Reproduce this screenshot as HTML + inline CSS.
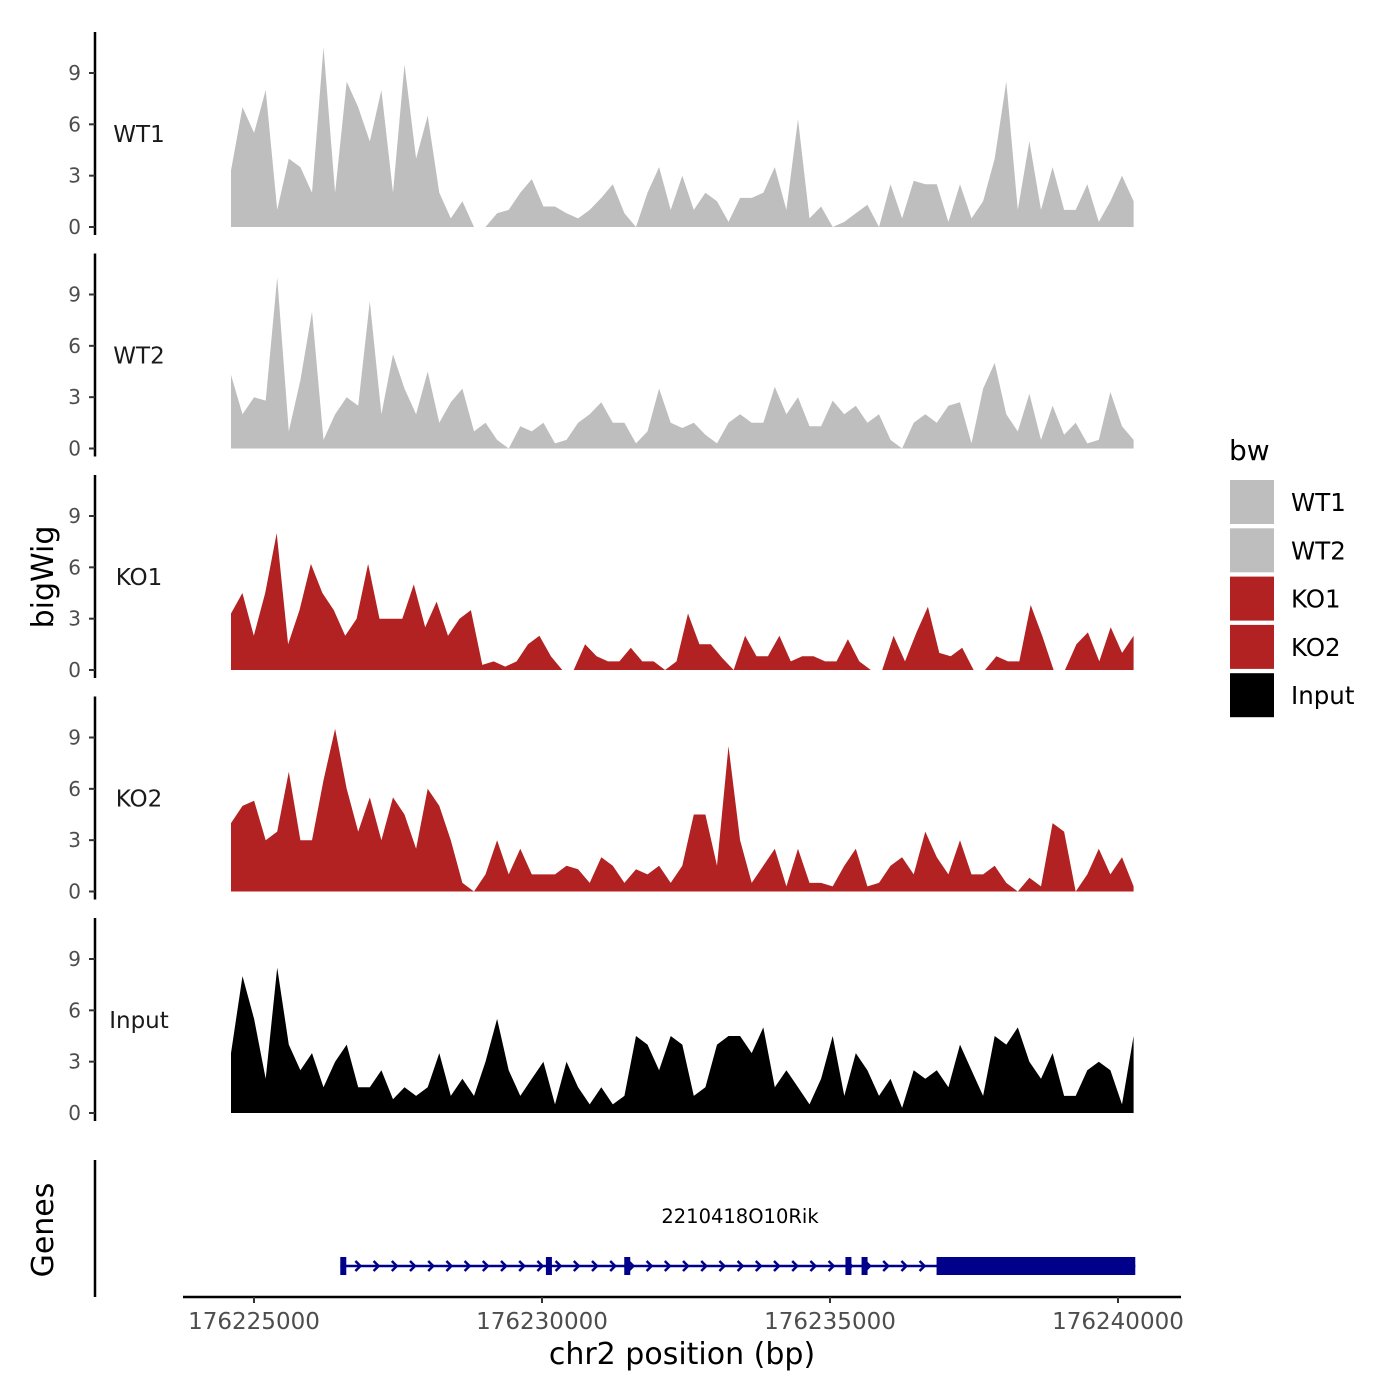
<!DOCTYPE html>
<html><head><meta charset="utf-8"><style>
html,body{margin:0;padding:0;background:#fff;}
svg{display:block;font-family:"DejaVu Sans","Liberation Sans",sans-serif;}
</style></head><body>
<svg id="chart" width="1400" height="1400" viewBox="0 0 1400 1400">
<g id="tracks"></g>
<g id="genes"></g>
<g id="legend"></g>
</svg>
<script>
const trackNames = ["WT1","WT2","KO1","KO2","Input"];
const trackColors = ["#bebebe","#bebebe","#b22222","#b22222","#000000"];
const binStart = 176224600;
const binEnd = 176240270;
const yTicks = [0,3,6,9];
const xTicks = [176225000,176230000,176235000,176240000];
const xTickLabels = ["176225000","176230000","176235000","176240000"];
const N = 0;
const wt1 = [3.3,7,5.5,8,1,4,3.5,2,10.5,2,8.5,7,5,8,2,9.5,4,6.5,2,0.5,1.5,N,N,0.8,1,2,2.8,1.2,1.2,0.8,0.5,1,1.7,2.5,0.8,N,2,3.5,1,3,1,2,1.5,0.3,1.7,1.7,2,3.5,1,6.3,0.5,1.2,N,0.3,0.8,1.3,N,2.5,0.5,2.7,2.5,2.5,0.3,2.5,0.5,1.5,4,8.5,1,5,1,3.5,1,1,2.5,0.3,1.5,3,1.5];
const wt2 = [4.3,2,3,2.8,10,1,4,8,0.5,2,3,2.5,8.6,2,5.5,3.5,2,4.5,1.5,2.7,3.5,1,1.5,0.5,N,1.3,1,1.5,0.3,0.5,1.5,2,2.7,1.5,1.5,0.3,1,3.5,1.5,1.2,1.5,0.8,0.3,1.5,2,1.5,1.5,3.6,2,3,1.3,1.3,2.8,2,2.5,1.5,2,0.5,N,1.5,2,1.5,2.5,2.7,0.3,3.5,5,2,1,3.2,0.5,2.5,0.8,1.5,0.3,0.5,3.3,1.3,0.5];
const ko1 = [3.3,4.5,2,4.5,8,1.5,3.5,6.2,4.5,3.5,2,3,6.2,3,3,3,5,2.5,4,2,3,3.5,0.3,0.5,0.2,0.5,1.5,2,0.8,N,N,1.5,0.8,0.5,0.5,1.3,0.5,0.5,N,0.5,3.3,1.5,1.5,0.7,N,2,0.8,0.8,2,0.5,0.8,0.8,0.5,0.5,1.8,0.5,N,N,2,0.5,2.2,3.7,1,0.8,1.3,N,N,0.8,0.5,0.5,3.8,2,N,N,1.5,2.2,0.5,2.5,1,2];
const ko2 = [4,5,5.3,3,3.5,7,3,3,6.5,9.5,6,3.5,5.5,3,5.5,4.5,2.5,6,5,3,0.5,N,1,3,1,2.5,1,1,1,1.5,1.3,0.5,2,1.5,0.5,1.3,1,1.5,0.5,1.5,4.5,4.5,1.5,8.5,3,0.5,1.5,2.5,0.3,2.5,0.5,0.5,0.3,1.5,2.5,0.3,0.5,1.5,2,1,3.5,2,1,3,1,1,1.5,0.5,N,0.8,0.3,4,3.5,N,1,2.5,1,2,0.3];
const input = [3.5,8,5.5,2,8.5,4,2.5,3.5,1.5,3,4,1.5,1.5,2.5,0.8,1.5,1,1.5,3.5,1,2,1,3,5.5,2.5,1,2,3,0.5,3,1.5,0.5,1.5,0.5,1,4.5,4,2.5,4.5,4,1,1.5,4,4.5,4.5,3.5,5,1.5,2.5,1.5,0.5,2,4.5,1,3.5,2.5,1,2,0.3,2.5,2,2.5,1.5,4,2.5,1,4.5,4,5,3,2,3.5,1,1,2.5,3,2.5,0.5,4.5];
const trackData = [wt1,wt2,ko1,ko2,input];
const geneName = "2210418O10Rik";
const geneStart = 176226500, geneEnd = 176240300;
const exonStarts = [176226550,176230120,176231480,176235320,176235600];
const utrStart = 176236850, utrEnd = 176240300;

const NS="http://www.w3.org/2000/svg";
function mk(tag,attrs,parent){const e=document.createElementNS(NS,tag);for(const k in attrs)e.setAttribute(k,attrs[k]);parent.appendChild(e);return e;}
const X0=254, XPB=(1118-254)/15000;
function xs(bp){return X0+(bp-176225000)*XPB;}
const tracksG=document.getElementById('tracks');
trackNames.forEach((name,t)=>{
  const base=227+t*221.5, ppu=154/9;
  const ys=v=>base-v*ppu;
  const g=mk('g',{},tracksG);
  
  
  const ax=mk('line',{x1:95,y1:base-195,x2:95,y2:base+8,stroke:'#000','stroke-width':2.5},g);
  
  
  yTicks.forEach(v=>{
    mk('line',{x1:89,y1:ys(v),x2:95,y2:ys(v),stroke:'#333','stroke-width':2},g);
    const tx=mk('text',{x:81,y:ys(v)+7,'text-anchor':'end','font-size':20,fill:'#4d4d4d'},g);
    tx.textContent=v;
    
    
  });
  const lb=mk('text',{x:139,y:base-85,'text-anchor':'middle','font-size':23,fill:'#1a1a1a'},g);
  lb.textContent=name;
  
  
  const d=trackData[t], step=(binEnd-binStart)/(d.length-1);
  const seg=d.map((v,i)=>[xs(binStart+i*step),ys(v)]);
  const pts=[[seg[0][0],base]].concat(seg,[[seg[seg.length-1][0],base]]);
  const p=mk('polygon',{points:pts.map(q=>q[0].toFixed(1)+','+q[1].toFixed(1)).join(' '),fill:trackColors[t]},g);
  
  
});
const yt=mk('text',{x:0,y:0,transform:'translate(53,577) rotate(-90)','text-anchor':'middle','font-size':30,fill:'#000'},tracksG);
yt.textContent='bigWig';



const gg=document.getElementById('genes');
mk('line',{x1:95,y1:1160,x2:95,y2:1297,stroke:'#000','stroke-width':2.5},gg);
const gt=mk('text',{x:0,y:0,transform:'translate(53,1230) rotate(-90)','text-anchor':'middle','font-size':30,fill:'#000'},gg);
gt.textContent='Genes';


const xa=mk('line',{x1:183,y1:1297,x2:1181,y2:1297,stroke:'#000','stroke-width':2.5},gg);


xTicks.forEach((v,i)=>{
  mk('line',{x1:xs(v),y1:1297,x2:xs(v),y2:1303,stroke:'#333','stroke-width':2},gg);
  const tx=mk('text',{x:xs(v),y:1329,'text-anchor':'middle','font-size':23,fill:'#4d4d4d'},gg);
  tx.textContent=xTickLabels[i];
  
  
});
const xt=mk('text',{x:682,y:1364,'text-anchor':'middle','font-size':30,fill:'#000'},gg);
xt.textContent='chr2 position (bp)';


const gy=1266, blue='#00008b';
const gl=mk('line',{x1:xs(geneStart),y1:gy,x2:xs(geneEnd),y2:gy,stroke:blue,'stroke-width':2.5},gg);


for(let x=xs(geneStart)+18;x<xs(utrStart)-8;x+=18.2){
  mk('polyline',{points:`${x-3},${gy-5} ${x+2},${gy} ${x-3},${gy+5}`,fill:'none',stroke:blue,'stroke-width':2.5},gg);
}
exonStarts.forEach(s=>{
  const r=mk('rect',{x:xs(s)-3,y:gy-9,width:6,height:18,fill:blue},gg);
  
  
});
const u=mk('rect',{x:xs(utrStart),y:gy-9,width:xs(utrEnd)-xs(utrStart),height:18,fill:blue},gg);


const gn=mk('text',{x:740,y:1223,'text-anchor':'middle','font-size':19.5,fill:'#000'},gg);
gn.textContent=geneName;



const lg=document.getElementById('legend');
const lt=mk('text',{x:1229,y:460,'font-size':28,fill:'#000'},lg);
lt.textContent='bw';


trackNames.forEach((n,i)=>{
  const y=480+i*48.3;
  const r=mk('rect',{x:1230,y:y,width:44,height:44,fill:trackColors[i]},lg);
  
  
  const t=mk('text',{x:1291,y:y+31,'font-size':24.5,fill:'#000'},lg);
  t.textContent=n;
  
  
});
</script>
</body></html>
